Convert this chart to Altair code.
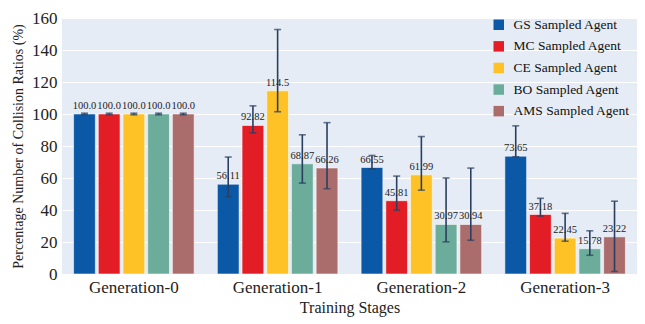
import altair as alt
import pandas as pd

stages = ["Generation-0", "Generation-1", "Generation-2", "Generation-3"]
agents = ["GS Sampled Agent", "MC Sampled Agent", "CE Sampled Agent",
          "BO Sampled Agent", "AMS Sampled Agent"]
colors = ["#0A58A6", "#E21D26", "#FEC227", "#6BAC9A", "#AB6D6B"]

# values per agent across stages
means = {
    "GS Sampled Agent": [100.0, 56.11, 66.55, 73.65],
    "MC Sampled Agent": [100.0, 92.82, 45.81, 37.18],
    "CE Sampled Agent": [100.0, 114.5, 61.99, 22.45],
    "BO Sampled Agent": [100.0, 68.87, 30.97, 15.78],
    "AMS Sampled Agent": [100.0, 66.26, 30.94, 23.22],
}
labels = {
    "GS Sampled Agent": ["100.0", "56.11", "66.55", "73.65"],
    "MC Sampled Agent": ["100.0", "92.82", "45.81", "37.18"],
    "CE Sampled Agent": ["100.0", "114.5", "61.99", "22.45"],
    "BO Sampled Agent": ["100.0", "68.87", "30.97", "15.78"],
    "AMS Sampled Agent": ["100.0", "66.26", "30.94", "23.22"],
}
err_hi = {
    "GS Sampled Agent": [100.5, 73.1, 74.1, 92.6],
    "MC Sampled Agent": [100.5, 105.1, 61.2, 47.3],
    "CE Sampled Agent": [100.5, 152.8, 85.9, 37.9],
    "BO Sampled Agent": [100.5, 87.0, 60.0, 27.0],
    "AMS Sampled Agent": [100.5, 94.6, 66.2, 45.5],
}
err_lo = {
    "GS Sampled Agent": [99.5, 48.3, 65.6, 73.3],
    "MC Sampled Agent": [99.5, 88.2, 39.9, 36.2],
    "CE Sampled Agent": [99.5, 101.4, 52.4, 20.5],
    "BO Sampled Agent": [99.5, 56.8, 20.1, 11.7],
    "AMS Sampled Agent": [99.5, 53.3, 21.1, 1.6],
}

rows = []
for a in agents:
    for i, s in enumerate(stages):
        rows.append({"stage": s, "agent": a, "value": means[a][i],
                     "label": labels[a][i], "hi": err_hi[a][i], "lo": err_lo[a][i]})
df = pd.DataFrame(rows)

FONT = "Liberation Serif, Times New Roman, serif"

x = alt.X("stage:N", sort=stages, title="Training Stages",
          scale=alt.Scale(paddingInner=0, paddingOuter=0),
          axis=alt.Axis(labelAngle=0, labelFontSize=17, titleFontSize=16,
                        labelColor="#222",
                        titleColor="#222", titleFontWeight="normal",
                        ticks=False, domain=False,
                        grid=False, labelPadding=5, titlePadding=4))
xo = alt.XOffset("agent:N", sort=agents,
                 scale=alt.Scale(paddingInner=0.12, paddingOuter=0.47))
yscale = alt.Scale(domain=[0, 160], nice=False)
YTITLE = "Percentage Number of Collision Ratios (%)"
yaxis = alt.Axis(values=[0, 20, 40, 60, 80, 100, 120, 140, 160],
                 labelFontSize=17, titleFontSize=14,
                 labelColor="#222", titleColor="#222",
                 titleFontWeight="normal", labelOverlap=False,
                 ticks=False, domain=False, gridColor="white",
                 gridWidth=1.2, labelPadding=5, titlePadding=6)

def Y(field):
    return alt.Y(field, type="quantitative", scale=yscale, title=YTITLE, axis=yaxis)

base = alt.Chart(df)

bars = base.mark_bar(stroke="white", strokeOpacity=0.55, strokeWidth=1).encode(
    x=x, xOffset=xo, y=Y("value"),
    color=alt.Color("agent:N", sort=agents,
                    scale=alt.Scale(domain=agents, range=colors),
                    legend=alt.Legend(title=None, orient="none", legendX=430,
                                      legendY=0, symbolType="square",
                                      symbolSize=110, symbolStrokeWidth=0,
                                      labelFontSize=13.5,
                                      labelColor="#111", rowPadding=6.6,
                                      labelOffset=8, labelLimit=300)),
)

rules = base.mark_rule(color="#2A3F5F", strokeWidth=1.6).encode(
    x=x, xOffset=xo, y=Y("hi"), y2="lo:Q")

cap_hi = base.mark_tick(color="#2A3F5F", size=7, thickness=1.6).encode(
    x=x, xOffset=xo, y=Y("hi"))
cap_lo = base.mark_tick(color="#2A3F5F", size=7, thickness=1.6).encode(
    x=x, xOffset=xo, y=Y("lo"))

text = base.mark_text(baseline="bottom", dy=-3, fontSize=10.5,
                      color="#222").encode(
    x=x, xOffset=xo, y=Y("value"), text="label:N")

chart = alt.layer(bars, rules, cap_hi, cap_lo, text).properties(
    width=575, height=256,
    autosize=alt.AutoSizeParams(type="none"),
    padding={"left": 54, "top": 10, "right": 0, "bottom": 44},
).configure(font=FONT).configure_view(fill="#E5ECF6", stroke=None)

chart.save("out.html", embed_options={"renderer": "svg", "actions": False})
